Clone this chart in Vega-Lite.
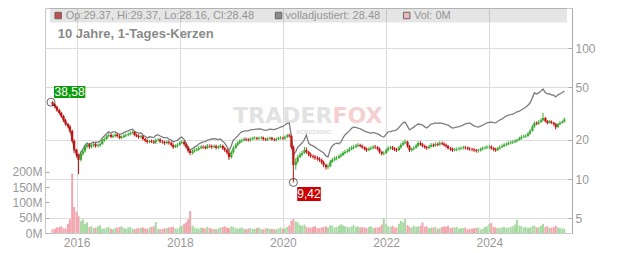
{
"$schema": "https://vega.github.io/schema/vega-lite/v6.json",
"width": 527, "height": 225,
"autosize": "none",
"padding": {"left": 45, "top": 8, "right": 60, "bottom": 20},
"background": "white",
"config": {
  "view": {"stroke": "#c8c8c8"},
  "font": "Liberation Sans",
  "axis": {"labelFont": "Liberation Sans", "labelColor": "#999", "labelFontSize": 12, "gridColor": "#dcdcdc", "domainColor": "#aaa", "tickColor": "#aaa", "title": null}
},
"data": {"values": [
{"d":"2015-07-15","o":38.58,"h":39.2,"l":36.2,"c":37.0,"a":37.4,"v":12},
{"d":"2015-08-01","o":37.0,"h":37.8,"l":34.6,"c":35.6,"a":35.9,"v":14},
{"d":"2015-08-15","o":35.6,"h":36.3,"l":32.6,"c":33.6,"a":34.2,"v":18},
{"d":"2015-09-01","o":33.6,"h":34.4,"l":31.0,"c":31.9,"a":32.3,"v":20},
{"d":"2015-09-15","o":31.9,"h":32.6,"l":29.3,"c":30.2,"a":30.5,"v":22},
{"d":"2015-10-01","o":30.2,"h":30.8,"l":27.2,"c":28.0,"a":28.4,"v":16},
{"d":"2015-10-15","o":28.0,"h":28.8,"l":25.5,"c":26.3,"a":26.8,"v":15},
{"d":"2015-11-01","o":26.3,"h":26.9,"l":24.4,"c":25.2,"a":25.6,"v":30},
{"d":"2015-11-15","o":25.2,"h":25.9,"l":22.6,"c":23.3,"a":23.7,"v":45},
{"d":"2015-12-01","o":23.3,"h":23.8,"l":18.9,"c":19.5,"a":19.9,"v":195},
{"d":"2015-12-15","o":19.5,"h":20.1,"l":15.8,"c":16.6,"a":17.2,"v":85},
{"d":"2016-01-01","o":16.6,"h":17.0,"l":14.6,"c":15.2,"a":15.7,"v":70},
{"d":"2016-01-15","o":15.2,"h":15.6,"l":10.9,"c":14.0,"a":14.5,"v":55},
{"d":"2016-02-01","o":14.0,"h":16.0,"l":13.6,"c":15.6,"a":16.1,"v":40},
{"d":"2016-02-15","o":15.6,"h":17.0,"l":15.1,"c":16.3,"a":16.9,"v":45},
{"d":"2016-03-01","o":16.3,"h":18.1,"l":15.9,"c":17.6,"a":18.1,"v":30},
{"d":"2016-03-15","o":17.6,"h":18.9,"l":17.1,"c":18.2,"a":18.8,"v":35},
{"d":"2016-04-01","o":18.2,"h":18.7,"l":17.0,"c":17.6,"a":18.3,"v":20},
{"d":"2016-04-15","o":17.6,"h":18.6,"l":17.1,"c":18.0,"a":18.8,"v":22},
{"d":"2016-05-01","o":18.0,"h":18.9,"l":17.5,"c":18.4,"a":19.1,"v":16},
{"d":"2016-05-15","o":18.4,"h":18.9,"l":17.3,"c":17.9,"a":19.0,"v":18},
{"d":"2016-06-01","o":17.9,"h":18.6,"l":17.4,"c":18.1,"a":19.1,"v":22},
{"d":"2016-06-15","o":18.1,"h":19.1,"l":17.6,"c":18.5,"a":19.5,"v":25},
{"d":"2016-07-01","o":18.5,"h":20.3,"l":18.2,"c":19.7,"a":20.6,"v":14},
{"d":"2016-07-15","o":19.7,"h":20.8,"l":19.2,"c":20.2,"a":21.3,"v":15},
{"d":"2016-08-01","o":20.2,"h":21.8,"l":19.9,"c":21.2,"a":22.3,"v":18},
{"d":"2016-08-15","o":21.2,"h":22.4,"l":20.8,"c":21.7,"a":22.9,"v":20},
{"d":"2016-09-01","o":21.7,"h":22.2,"l":20.5,"c":21.0,"a":22.4,"v":14},
{"d":"2016-09-15","o":21.0,"h":22.0,"l":20.5,"c":21.3,"a":22.9,"v":12},
{"d":"2016-10-01","o":21.3,"h":22.3,"l":20.8,"c":21.8,"a":22.9,"v":16},
{"d":"2016-10-15","o":21.8,"h":22.3,"l":20.7,"c":21.3,"a":22.4,"v":18},
{"d":"2016-11-01","o":21.3,"h":21.8,"l":20.1,"c":20.6,"a":21.9,"v":20},
{"d":"2016-11-15","o":20.6,"h":21.5,"l":20.1,"c":20.9,"a":22.1,"v":22},
{"d":"2016-12-01","o":20.9,"h":22.0,"l":20.5,"c":21.4,"a":22.6,"v":16},
{"d":"2016-12-15","o":21.4,"h":22.3,"l":20.9,"c":21.7,"a":23.0,"v":14},
{"d":"2017-01-01","o":21.7,"h":22.6,"l":21.2,"c":22.0,"a":23.3,"v":18},
{"d":"2017-01-15","o":22.0,"h":23.1,"l":21.5,"c":22.4,"a":23.7,"v":20},
{"d":"2017-02-01","o":22.4,"h":23.4,"l":21.9,"c":22.8,"a":24.0,"v":14},
{"d":"2017-02-15","o":22.8,"h":23.3,"l":21.1,"c":21.7,"a":23.0,"v":12},
{"d":"2017-03-01","o":21.7,"h":22.2,"l":20.8,"c":21.4,"a":22.7,"v":15},
{"d":"2017-03-15","o":21.4,"h":21.9,"l":20.3,"c":20.9,"a":22.4,"v":16},
{"d":"2017-04-01","o":20.9,"h":21.7,"l":20.4,"c":21.2,"a":22.5,"v":17},
{"d":"2017-04-15","o":21.2,"h":21.6,"l":19.7,"c":20.2,"a":21.7,"v":18},
{"d":"2017-05-01","o":20.2,"h":20.6,"l":19.1,"c":19.6,"a":21.1,"v":15},
{"d":"2017-05-15","o":19.6,"h":20.1,"l":18.6,"c":19.2,"a":20.6,"v":14},
{"d":"2017-06-01","o":19.2,"h":20.0,"l":18.7,"c":19.5,"a":21.0,"v":18},
{"d":"2017-06-15","o":19.5,"h":20.0,"l":18.8,"c":19.3,"a":20.9,"v":20},
{"d":"2017-07-01","o":19.3,"h":19.9,"l":18.5,"c":19.0,"a":20.7,"v":22},
{"d":"2017-07-15","o":19.0,"h":20.4,"l":18.5,"c":19.8,"a":21.5,"v":36},
{"d":"2017-08-01","o":19.8,"h":20.6,"l":19.3,"c":20.0,"a":21.7,"v":14},
{"d":"2017-08-15","o":20.0,"h":20.5,"l":18.8,"c":19.3,"a":21.3,"v":12},
{"d":"2017-09-01","o":19.3,"h":19.8,"l":18.6,"c":19.1,"a":20.9,"v":14},
{"d":"2017-09-15","o":19.1,"h":19.6,"l":18.2,"c":18.8,"a":20.6,"v":15},
{"d":"2017-10-01","o":18.8,"h":19.7,"l":18.4,"c":19.2,"a":20.8,"v":16},
{"d":"2017-10-15","o":19.2,"h":19.7,"l":18.3,"c":18.9,"a":20.2,"v":18},
{"d":"2017-11-01","o":18.9,"h":19.3,"l":17.7,"c":18.2,"a":19.8,"v":19},
{"d":"2017-11-15","o":18.2,"h":18.7,"l":17.0,"c":17.5,"a":19.2,"v":20},
{"d":"2017-12-01","o":17.5,"h":18.4,"l":17.2,"c":17.9,"a":19.5,"v":15},
{"d":"2017-12-15","o":17.9,"h":18.8,"l":17.4,"c":18.2,"a":19.8,"v":14},
{"d":"2018-01-01","o":18.2,"h":19.4,"l":18.0,"c":18.9,"a":20.5,"v":20},
{"d":"2018-01-15","o":18.9,"h":19.8,"l":18.5,"c":19.2,"a":20.9,"v":24},
{"d":"2018-02-01","o":19.2,"h":19.6,"l":17.9,"c":18.4,"a":20.0,"v":30},
{"d":"2018-02-15","o":18.4,"h":18.8,"l":17.0,"c":17.5,"a":18.8,"v":35},
{"d":"2018-03-01","o":17.5,"h":17.8,"l":15.9,"c":16.4,"a":17.3,"v":45},
{"d":"2018-03-15","o":16.4,"h":16.8,"l":15.2,"c":15.8,"a":16.6,"v":72},
{"d":"2018-04-01","o":15.8,"h":16.8,"l":15.4,"c":16.3,"a":17.1,"v":25},
{"d":"2018-04-15","o":16.3,"h":17.2,"l":15.9,"c":16.6,"a":17.5,"v":18},
{"d":"2018-05-01","o":16.6,"h":17.3,"l":16.2,"c":16.8,"a":17.9,"v":15},
{"d":"2018-05-15","o":16.8,"h":17.8,"l":16.4,"c":17.2,"a":18.5,"v":14},
{"d":"2018-06-01","o":17.2,"h":18.1,"l":16.9,"c":17.6,"a":18.9,"v":18},
{"d":"2018-06-15","o":17.6,"h":18.1,"l":17.0,"c":17.5,"a":19.2,"v":16},
{"d":"2018-07-01","o":17.5,"h":18.0,"l":16.8,"c":17.2,"a":19.3,"v":15},
{"d":"2018-07-15","o":17.2,"h":18.5,"l":16.9,"c":17.9,"a":19.8,"v":20},
{"d":"2018-08-01","o":17.9,"h":18.4,"l":17.3,"c":17.8,"a":20.0,"v":16},
{"d":"2018-08-15","o":17.8,"h":18.3,"l":17.0,"c":17.5,"a":20.2,"v":14},
{"d":"2018-09-01","o":17.5,"h":18.3,"l":17.2,"c":17.8,"a":20.3,"v":13},
{"d":"2018-09-15","o":17.8,"h":18.3,"l":16.8,"c":17.3,"a":20.2,"v":12},
{"d":"2018-10-01","o":17.3,"h":18.1,"l":16.9,"c":17.6,"a":20.0,"v":15},
{"d":"2018-10-15","o":17.6,"h":18.5,"l":17.2,"c":17.9,"a":20.2,"v":18},
{"d":"2018-11-01","o":17.9,"h":18.3,"l":16.7,"c":17.2,"a":19.4,"v":20},
{"d":"2018-11-15","o":17.2,"h":17.6,"l":16.1,"c":16.6,"a":18.8,"v":22},
{"d":"2018-12-01","o":16.6,"h":17.0,"l":15.4,"c":15.9,"a":17.7,"v":18},
{"d":"2018-12-15","o":15.9,"h":16.3,"l":14.0,"c":14.7,"a":16.4,"v":16},
{"d":"2019-01-01","o":14.7,"h":16.5,"l":14.3,"c":16.0,"a":18.0,"v":22},
{"d":"2019-01-15","o":16.0,"h":17.8,"l":15.6,"c":17.2,"a":19.8,"v":20},
{"d":"2019-02-01","o":17.2,"h":18.7,"l":17.0,"c":18.2,"a":20.6,"v":16},
{"d":"2019-02-15","o":18.2,"h":19.4,"l":17.8,"c":18.8,"a":21.3,"v":14},
{"d":"2019-03-01","o":18.8,"h":20.0,"l":18.5,"c":19.4,"a":22.2,"v":16},
{"d":"2019-03-15","o":19.4,"h":20.4,"l":19.0,"c":19.8,"a":22.9,"v":18},
{"d":"2019-04-01","o":19.8,"h":20.8,"l":19.4,"c":20.2,"a":23.2,"v":14},
{"d":"2019-04-15","o":20.2,"h":20.7,"l":19.4,"c":20.0,"a":23.3,"v":12},
{"d":"2019-05-01","o":20.0,"h":20.5,"l":19.3,"c":19.8,"a":23.3,"v":15},
{"d":"2019-05-15","o":19.8,"h":20.8,"l":19.3,"c":20.2,"a":23.7,"v":16},
{"d":"2019-06-01","o":20.2,"h":21.0,"l":19.8,"c":20.5,"a":23.8,"v":13},
{"d":"2019-06-15","o":20.5,"h":21.2,"l":20.0,"c":20.6,"a":23.9,"v":14},
{"d":"2019-07-01","o":20.6,"h":21.0,"l":19.8,"c":20.3,"a":24.0,"v":16},
{"d":"2019-07-15","o":20.3,"h":21.1,"l":19.9,"c":20.5,"a":24.1,"v":18},
{"d":"2019-08-01","o":20.5,"h":21.2,"l":20.0,"c":20.7,"a":24.0,"v":13},
{"d":"2019-08-15","o":20.7,"h":21.1,"l":19.6,"c":20.2,"a":23.7,"v":12},
{"d":"2019-09-01","o":20.2,"h":20.6,"l":19.5,"c":20.0,"a":23.5,"v":15},
{"d":"2019-09-15","o":20.0,"h":20.9,"l":19.5,"c":20.3,"a":23.7,"v":16},
{"d":"2019-10-01","o":20.3,"h":21.1,"l":20.0,"c":20.6,"a":24.0,"v":13},
{"d":"2019-10-15","o":20.6,"h":21.0,"l":19.6,"c":20.1,"a":23.9,"v":14},
{"d":"2019-11-01","o":20.1,"h":20.5,"l":19.4,"c":19.9,"a":23.8,"v":12},
{"d":"2019-11-15","o":19.9,"h":20.8,"l":19.4,"c":20.2,"a":24.1,"v":12},
{"d":"2019-12-01","o":20.2,"h":21.0,"l":19.8,"c":20.5,"a":24.5,"v":15},
{"d":"2019-12-15","o":20.5,"h":21.2,"l":20.0,"c":20.6,"a":24.9,"v":18},
{"d":"2020-01-01","o":20.6,"h":21.1,"l":19.9,"c":20.4,"a":25.2,"v":14},
{"d":"2020-01-15","o":20.4,"h":21.5,"l":19.9,"c":20.9,"a":25.8,"v":16},
{"d":"2020-02-01","o":20.9,"h":22.1,"l":20.6,"c":21.5,"a":26.6,"v":20},
{"d":"2020-02-15","o":21.5,"h":22.2,"l":20.7,"c":21.3,"a":26.8,"v":25},
{"d":"2020-03-01","o":21.3,"h":21.7,"l":16.8,"c":17.5,"a":21.0,"v":40},
{"d":"2020-03-15","o":17.5,"h":18.0,"l":9.42,"c":12.8,"a":15.2,"v":46},
{"d":"2020-04-01","o":12.8,"h":14.4,"l":11.8,"c":13.6,"a":16.2,"v":38},
{"d":"2020-04-15","o":13.6,"h":15.3,"l":13.2,"c":14.7,"a":17.5,"v":35},
{"d":"2020-05-01","o":14.7,"h":15.9,"l":14.4,"c":15.3,"a":18.2,"v":26},
{"d":"2020-05-15","o":15.3,"h":16.4,"l":14.9,"c":15.8,"a":18.8,"v":24},
{"d":"2020-06-01","o":15.8,"h":17.6,"l":15.6,"c":16.6,"a":20.0,"v":28},
{"d":"2020-06-15","o":16.6,"h":17.4,"l":15.6,"c":16.1,"a":21.7,"v":20},
{"d":"2020-07-01","o":16.1,"h":16.4,"l":14.9,"c":15.4,"a":18.8,"v":18},
{"d":"2020-07-15","o":15.4,"h":15.9,"l":14.5,"c":15.0,"a":18.2,"v":18},
{"d":"2020-08-01","o":15.0,"h":15.4,"l":14.3,"c":14.8,"a":17.9,"v":20},
{"d":"2020-08-15","o":14.8,"h":15.2,"l":14.0,"c":14.5,"a":17.5,"v":22},
{"d":"2020-09-01","o":14.5,"h":15.0,"l":13.8,"c":14.3,"a":17.0,"v":16},
{"d":"2020-09-15","o":14.3,"h":14.7,"l":13.5,"c":14.0,"a":16.6,"v":16},
{"d":"2020-10-01","o":14.0,"h":14.3,"l":13.0,"c":13.4,"a":16.2,"v":18},
{"d":"2020-10-15","o":13.4,"h":13.8,"l":12.3,"c":12.8,"a":15.8,"v":20},
{"d":"2020-11-01","o":12.8,"h":13.1,"l":11.8,"c":12.3,"a":15.0,"v":22},
{"d":"2020-11-15","o":12.3,"h":13.0,"l":11.9,"c":12.5,"a":14.7,"v":18},
{"d":"2020-12-01","o":12.5,"h":14.0,"l":12.3,"c":13.5,"a":16.8,"v":26},
{"d":"2020-12-15","o":13.5,"h":14.5,"l":13.2,"c":14.0,"a":17.9,"v":24},
{"d":"2021-01-01","o":14.0,"h":14.9,"l":13.7,"c":14.4,"a":18.5,"v":18},
{"d":"2021-01-15","o":14.4,"h":15.0,"l":13.9,"c":14.5,"a":18.8,"v":20},
{"d":"2021-02-01","o":14.5,"h":15.4,"l":14.2,"c":14.9,"a":18.6,"v":24},
{"d":"2021-02-15","o":14.9,"h":15.8,"l":14.6,"c":15.2,"a":19.2,"v":28},
{"d":"2021-03-01","o":15.2,"h":16.3,"l":15.0,"c":15.8,"a":20.6,"v":25},
{"d":"2021-03-15","o":15.8,"h":16.7,"l":15.4,"c":16.1,"a":21.7,"v":22},
{"d":"2021-04-01","o":16.1,"h":17.0,"l":15.8,"c":16.4,"a":22.5,"v":20},
{"d":"2021-04-15","o":16.4,"h":17.5,"l":16.1,"c":16.9,"a":23.3,"v":18},
{"d":"2021-05-01","o":16.9,"h":17.9,"l":16.6,"c":17.3,"a":24.4,"v":22},
{"d":"2021-05-15","o":17.3,"h":18.1,"l":16.8,"c":17.5,"a":24.9,"v":26},
{"d":"2021-06-01","o":17.5,"h":18.5,"l":17.2,"c":17.9,"a":24.8,"v":20},
{"d":"2021-06-15","o":17.9,"h":18.8,"l":17.5,"c":18.2,"a":24.5,"v":22},
{"d":"2021-07-01","o":18.2,"h":18.6,"l":17.4,"c":17.9,"a":24.2,"v":18},
{"d":"2021-07-15","o":17.9,"h":18.3,"l":17.0,"c":17.5,"a":23.7,"v":20},
{"d":"2021-08-01","o":17.5,"h":17.7,"l":16.5,"c":17.0,"a":23.2,"v":18},
{"d":"2021-08-15","o":17.0,"h":17.4,"l":16.1,"c":16.6,"a":22.9,"v":16},
{"d":"2021-09-01","o":16.6,"h":17.5,"l":16.3,"c":17.0,"a":22.6,"v":20},
{"d":"2021-09-15","o":17.0,"h":17.8,"l":16.6,"c":17.2,"a":22.4,"v":22},
{"d":"2021-10-01","o":17.2,"h":18.1,"l":16.9,"c":17.6,"a":22.7,"v":16},
{"d":"2021-10-15","o":17.6,"h":18.2,"l":17.0,"c":17.5,"a":22.4,"v":18},
{"d":"2021-11-01","o":17.5,"h":17.8,"l":16.5,"c":17.0,"a":22.1,"v":18},
{"d":"2021-11-15","o":17.0,"h":17.4,"l":15.6,"c":16.1,"a":21.7,"v":20},
{"d":"2021-12-01","o":16.1,"h":16.4,"l":15.1,"c":15.6,"a":21.1,"v":28},
{"d":"2021-12-15","o":15.6,"h":16.3,"l":15.2,"c":15.8,"a":20.9,"v":48},
{"d":"2022-01-01","o":15.8,"h":17.1,"l":15.5,"c":16.6,"a":22.0,"v":30},
{"d":"2022-01-15","o":16.6,"h":17.8,"l":16.2,"c":17.2,"a":22.9,"v":22},
{"d":"2022-02-01","o":17.2,"h":17.9,"l":16.8,"c":17.4,"a":23.0,"v":20},
{"d":"2022-02-15","o":17.4,"h":17.9,"l":16.6,"c":17.1,"a":23.3,"v":24},
{"d":"2022-03-01","o":17.1,"h":17.5,"l":16.3,"c":16.8,"a":23.4,"v":18},
{"d":"2022-03-15","o":16.8,"h":17.3,"l":16.1,"c":16.6,"a":23.7,"v":18},
{"d":"2022-04-01","o":16.6,"h":17.9,"l":16.3,"c":17.4,"a":24.7,"v":30},
{"d":"2022-04-15","o":17.4,"h":18.8,"l":17.0,"c":18.2,"a":25.8,"v":40},
{"d":"2022-05-01","o":18.2,"h":19.5,"l":17.9,"c":18.9,"a":26.8,"v":35},
{"d":"2022-05-15","o":18.9,"h":20.0,"l":18.5,"c":19.2,"a":27.2,"v":46},
{"d":"2022-06-01","o":19.2,"h":19.6,"l":17.3,"c":17.8,"a":25.2,"v":26},
{"d":"2022-06-15","o":17.8,"h":18.2,"l":16.1,"c":16.6,"a":23.7,"v":20},
{"d":"2022-07-01","o":16.6,"h":17.4,"l":16.2,"c":16.9,"a":24.3,"v":18},
{"d":"2022-07-15","o":16.9,"h":17.8,"l":16.5,"c":17.2,"a":24.9,"v":24},
{"d":"2022-08-01","o":17.2,"h":18.5,"l":17.1,"c":17.9,"a":25.7,"v":20},
{"d":"2022-08-15","o":17.9,"h":19.4,"l":17.6,"c":18.8,"a":26.3,"v":22},
{"d":"2022-09-01","o":18.8,"h":19.4,"l":17.9,"c":18.4,"a":26.1,"v":24},
{"d":"2022-09-15","o":18.4,"h":18.8,"l":17.4,"c":17.9,"a":25.8,"v":35},
{"d":"2022-10-01","o":17.9,"h":18.3,"l":17.0,"c":17.5,"a":25.0,"v":20},
{"d":"2022-10-15","o":17.5,"h":17.9,"l":16.7,"c":17.2,"a":24.5,"v":22},
{"d":"2022-11-01","o":17.2,"h":18.2,"l":17.0,"c":17.7,"a":25.4,"v":16},
{"d":"2022-11-15","o":17.7,"h":18.8,"l":17.4,"c":18.2,"a":26.3,"v":18},
{"d":"2022-12-01","o":18.2,"h":18.7,"l":17.5,"c":18.0,"a":26.5,"v":18},
{"d":"2022-12-15","o":18.0,"h":19.1,"l":17.6,"c":18.5,"a":26.8,"v":20},
{"d":"2023-01-01","o":18.5,"h":19.0,"l":17.8,"c":18.3,"a":26.6,"v":14},
{"d":"2023-01-15","o":18.3,"h":19.4,"l":17.9,"c":18.8,"a":26.8,"v":16},
{"d":"2023-02-01","o":18.8,"h":19.3,"l":18.1,"c":18.6,"a":26.6,"v":20},
{"d":"2023-02-15","o":18.6,"h":19.0,"l":17.7,"c":18.2,"a":26.3,"v":22},
{"d":"2023-03-01","o":18.2,"h":18.6,"l":17.3,"c":17.8,"a":26.0,"v":20},
{"d":"2023-03-15","o":17.8,"h":18.2,"l":16.7,"c":17.2,"a":25.8,"v":24},
{"d":"2023-04-01","o":17.2,"h":17.6,"l":16.4,"c":17.0,"a":25.0,"v":16},
{"d":"2023-04-15","o":17.0,"h":17.4,"l":16.1,"c":16.6,"a":24.5,"v":18},
{"d":"2023-05-01","o":16.6,"h":17.3,"l":16.2,"c":16.8,"a":24.7,"v":18},
{"d":"2023-05-15","o":16.8,"h":17.4,"l":16.3,"c":16.9,"a":24.9,"v":20},
{"d":"2023-06-01","o":16.9,"h":17.6,"l":16.5,"c":17.1,"a":25.1,"v":14},
{"d":"2023-06-15","o":17.1,"h":17.7,"l":16.6,"c":17.2,"a":25.4,"v":16},
{"d":"2023-07-01","o":17.2,"h":17.9,"l":16.8,"c":17.4,"a":25.9,"v":16},
{"d":"2023-07-15","o":17.4,"h":17.9,"l":16.8,"c":17.3,"a":26.3,"v":18},
{"d":"2023-08-01","o":17.3,"h":17.7,"l":16.6,"c":17.0,"a":26.6,"v":12},
{"d":"2023-08-15","o":17.0,"h":17.5,"l":16.4,"c":16.9,"a":26.8,"v":14},
{"d":"2023-09-01","o":16.9,"h":17.3,"l":16.3,"c":16.8,"a":26.0,"v":14},
{"d":"2023-09-15","o":16.8,"h":17.2,"l":16.1,"c":16.6,"a":25.4,"v":16},
{"d":"2023-10-01","o":16.6,"h":17.0,"l":15.9,"c":16.4,"a":25.1,"v":16},
{"d":"2023-10-15","o":16.4,"h":17.0,"l":15.9,"c":16.5,"a":24.9,"v":18},
{"d":"2023-11-01","o":16.5,"h":17.4,"l":16.2,"c":16.9,"a":25.3,"v":12},
{"d":"2023-11-15","o":16.9,"h":17.7,"l":16.6,"c":17.2,"a":25.8,"v":14},
{"d":"2023-12-01","o":17.2,"h":17.9,"l":16.8,"c":17.3,"a":26.3,"v":20},
{"d":"2023-12-15","o":17.3,"h":18.1,"l":16.9,"c":17.5,"a":26.8,"v":22},
{"d":"2024-01-01","o":17.5,"h":18.1,"l":17.0,"c":17.6,"a":27.1,"v":30},
{"d":"2024-01-15","o":17.6,"h":18.1,"l":16.7,"c":17.2,"a":27.2,"v":33},
{"d":"2024-02-01","o":17.2,"h":17.6,"l":16.3,"c":16.8,"a":26.9,"v":20},
{"d":"2024-02-15","o":16.8,"h":17.3,"l":16.1,"c":16.6,"a":26.8,"v":18},
{"d":"2024-03-01","o":16.6,"h":17.6,"l":16.4,"c":17.1,"a":27.6,"v":16},
{"d":"2024-03-15","o":17.1,"h":18.1,"l":16.8,"c":17.5,"a":28.2,"v":16},
{"d":"2024-04-01","o":17.5,"h":18.4,"l":17.2,"c":17.8,"a":28.8,"v":18},
{"d":"2024-04-15","o":17.8,"h":18.8,"l":17.5,"c":18.2,"a":29.5,"v":20},
{"d":"2024-05-01","o":18.2,"h":19.0,"l":17.8,"c":18.4,"a":30.2,"v":16},
{"d":"2024-05-15","o":18.4,"h":19.4,"l":18.1,"c":18.8,"a":30.8,"v":18},
{"d":"2024-06-01","o":18.8,"h":19.6,"l":18.4,"c":19.0,"a":31.0,"v":20},
{"d":"2024-06-15","o":19.0,"h":19.8,"l":18.5,"c":19.2,"a":31.3,"v":22},
{"d":"2024-07-01","o":19.2,"h":20.1,"l":18.8,"c":19.5,"a":31.9,"v":28},
{"d":"2024-07-15","o":19.5,"h":20.4,"l":19.0,"c":19.8,"a":32.5,"v":43},
{"d":"2024-08-01","o":19.8,"h":21.0,"l":19.6,"c":20.4,"a":33.0,"v":24},
{"d":"2024-08-15","o":20.4,"h":21.6,"l":20.0,"c":20.9,"a":33.6,"v":22},
{"d":"2024-09-01","o":20.9,"h":21.8,"l":20.5,"c":21.1,"a":34.5,"v":18},
{"d":"2024-09-15","o":21.1,"h":22.0,"l":20.6,"c":21.3,"a":35.4,"v":20},
{"d":"2024-10-01","o":21.3,"h":22.8,"l":21.0,"c":22.2,"a":36.6,"v":16},
{"d":"2024-10-15","o":22.2,"h":24.0,"l":21.8,"c":23.3,"a":38.0,"v":18},
{"d":"2024-11-01","o":23.3,"h":25.9,"l":23.0,"c":25.1,"a":41.8,"v":22},
{"d":"2024-11-15","o":25.1,"h":27.6,"l":24.6,"c":26.8,"a":45.4,"v":24},
{"d":"2024-12-01","o":26.8,"h":27.5,"l":25.8,"c":26.5,"a":44.6,"v":18},
{"d":"2024-12-15","o":26.5,"h":28.1,"l":25.9,"c":27.2,"a":45.4,"v":20},
{"d":"2025-01-01","o":27.2,"h":29.0,"l":26.8,"c":28.1,"a":47.0,"v":24},
{"d":"2025-01-15","o":28.1,"h":31.9,"l":27.5,"c":29.2,"a":48.6,"v":30},
{"d":"2025-02-01","o":29.2,"h":29.8,"l":27.0,"c":27.6,"a":45.8,"v":20},
{"d":"2025-02-15","o":27.6,"h":28.2,"l":26.1,"c":26.8,"a":44.6,"v":22},
{"d":"2025-03-01","o":26.8,"h":28.2,"l":26.5,"c":27.5,"a":44.8,"v":16},
{"d":"2025-03-15","o":27.5,"h":28.0,"l":26.3,"c":26.9,"a":43.8,"v":18},
{"d":"2025-04-01","o":26.9,"h":27.3,"l":25.5,"c":26.3,"a":43.6,"v":20},
{"d":"2025-04-15","o":26.3,"h":26.8,"l":23.9,"c":24.9,"a":42.3,"v":24},
{"d":"2025-05-01","o":24.9,"h":26.8,"l":24.6,"c":26.2,"a":43.9,"v":18},
{"d":"2025-05-15","o":26.2,"h":27.6,"l":25.8,"c":26.8,"a":44.6,"v":16},
{"d":"2025-06-01","o":26.8,"h":28.0,"l":26.5,"c":27.4,"a":45.8,"v":15},
{"d":"2025-06-15","o":27.4,"h":29.37,"l":27.0,"c":28.48,"a":47.0,"v":14}
]},
"layer": [
  {
    "mark": {"type": "bar", "size": 2},
    "encoding": {
      "x": {"field": "d", "type": "temporal",
            "scale": {"domain": [{"year": 2015, "month": 6, "date": 27}, {"year": 2025, "month": 7, "date": 4}]},
            "axis": {"values": [{"year": 2016}, {"year": 2018}, {"year": 2020}, {"year": 2022}, {"year": 2024}], "format": "%Y", "grid": true, "ticks": false, "domain": false, "labelPadding": 4, "title": null}},
      "y": {"field": "v", "type": "quantitative", "scale": {"domain": [0, 737.7], "nice": false, "zero": true},
            "axis": {"orient": "left", "values": [0, 50, 100, 150, 200], "labelExpr": "datum.value + 'M'", "grid": false, "domain": false, "tickSize": -4, "labelPadding": 7, "title": null}},
      "color": {"condition": {"test": "datum.c >= datum.o", "value": "#a8dba4"}, "value": "#f2a5ad"}
    }
  },
  {
    "layer": [
      {
        "data": {"values": [{}]},
        "mark": {"type": "rect", "color": "#000", "opacity": 0.1},
        "encoding": {
          "x": {"datum": {"year": 2015, "month": 6, "date": 27}, "type": "temporal", "axis": {"values": [{"year": 2016}, {"year": 2018}, {"year": 2020}, {"year": 2022}, {"year": 2024}], "format": "%Y", "grid": true, "ticks": false, "domain": false, "labelPadding": 4, "title": null}},
          "x2": {"datum": {"year": 2025, "month": 7, "date": 4}},
          "y": {"datum": 156.6, "type": "quantitative", "scale": {"type": "log", "domain": [3.871, 202], "nice": false, "zero": false}, "axis": {"orient": "right", "values": [5, 10, 20, 50, 100], "labelExpr": "datum.value", "grid": true, "domain": true, "tickSize": -4, "labelPadding": 7, "title": null}},
          "y2": {"datum": 202}
        }
      },
      {
        "data": {"values": [{}]},
        "mark": {"type": "text", "text": "TRADER", "font": "DejaVu Sans", "fontWeight": "bold", "fontSize": 22, "align": "right", "baseline": "alphabetic", "color": "#e2e2e2"},
        "encoding": {
          "x": {"datum": {"year": 2020, "month": 12, "date": 17}, "type": "temporal", "axis": {"values": [{"year": 2016}, {"year": 2018}, {"year": 2020}, {"year": 2022}, {"year": 2024}], "format": "%Y", "grid": true, "ticks": false, "domain": false, "labelPadding": 4, "title": null}},
          "y": {"datum": 26.8, "type": "quantitative", "scale": {"type": "log", "domain": [3.871, 202], "nice": false, "zero": false}, "axis": {"orient": "right", "values": [5, 10, 20, 50, 100], "labelExpr": "datum.value", "grid": true, "domain": true, "tickSize": -4, "labelPadding": 7, "title": null}}
        }
      },
      {
        "data": {"values": [{}]},
        "mark": {"type": "text", "text": "FOX", "font": "DejaVu Sans", "fontWeight": "bold", "fontSize": 22, "align": "left", "baseline": "alphabetic", "color": "#f6d0d0"},
        "encoding": {
          "x": {"datum": {"year": 2020, "month": 12, "date": 17}, "type": "temporal", "axis": {"values": [{"year": 2016}, {"year": 2018}, {"year": 2020}, {"year": 2022}, {"year": 2024}], "format": "%Y", "grid": true, "ticks": false, "domain": false, "labelPadding": 4, "title": null}},
          "y": {"datum": 26.8, "type": "quantitative", "scale": {"type": "log", "domain": [3.871, 202], "nice": false, "zero": false}, "axis": {"orient": "right", "values": [5, 10, 20, 50, 100], "labelExpr": "datum.value", "grid": true, "domain": true, "tickSize": -4, "labelPadding": 7, "title": null}}
        }
      },
      {
        "data": {"values": [{}]},
        "mark": {"type": "text", "text": "SCREENING", "fontSize": 6, "fontWeight": "bold", "align": "center", "baseline": "alphabetic", "color": "#dedede"},
        "encoding": {
          "x": {"datum": {"year": 2020, "month": 8, "date": 7}, "type": "temporal", "axis": {"values": [{"year": 2016}, {"year": 2018}, {"year": 2020}, {"year": 2022}, {"year": 2024}], "format": "%Y", "grid": true, "ticks": false, "domain": false, "labelPadding": 4, "title": null}},
          "y": {"datum": 22.2, "type": "quantitative", "scale": {"type": "log", "domain": [3.871, 202], "nice": false, "zero": false}, "axis": {"orient": "right", "values": [5, 10, 20, 50, 100], "labelExpr": "datum.value", "grid": true, "domain": true, "tickSize": -4, "labelPadding": 7, "title": null}}
        }
      },
      {
        "mark": {"type": "line", "color": "#7d7d7d", "strokeWidth": 1.3},
        "encoding": {
          "x": {"field": "d", "type": "temporal", "axis": {"values": [{"year": 2016}, {"year": 2018}, {"year": 2020}, {"year": 2022}, {"year": 2024}], "format": "%Y", "grid": true, "ticks": false, "domain": false, "labelPadding": 4, "title": null}},
          "y": {"field": "a", "type": "quantitative", "scale": {"type": "log", "domain": [3.871, 202], "nice": false, "zero": false}, "axis": {"orient": "right", "values": [5, 10, 20, 50, 100], "labelExpr": "datum.value", "grid": true, "domain": true, "tickSize": -4, "labelPadding": 7, "title": null}}
        }
      },
      {
        "mark": {"type": "rule", "strokeWidth": 1},
        "encoding": {
          "x": {"field": "d", "type": "temporal", "axis": {"values": [{"year": 2016}, {"year": 2018}, {"year": 2020}, {"year": 2022}, {"year": 2024}], "format": "%Y", "grid": true, "ticks": false, "domain": false, "labelPadding": 4, "title": null}},
          "y": {"field": "l", "type": "quantitative", "scale": {"type": "log", "domain": [3.871, 202], "nice": false, "zero": false}, "axis": {"orient": "right", "values": [5, 10, 20, 50, 100], "labelExpr": "datum.value", "grid": true, "domain": true, "tickSize": -4, "labelPadding": 7, "title": null}},
          "y2": {"field": "h"},
          "color": {"condition": {"test": "datum.c >= datum.o", "value": "#3aaa32"}, "value": "#c41212"}
        }
      },
      {
        "mark": {"type": "bar", "size": 2.2},
        "encoding": {
          "x": {"field": "d", "type": "temporal", "axis": {"values": [{"year": 2016}, {"year": 2018}, {"year": 2020}, {"year": 2022}, {"year": 2024}], "format": "%Y", "grid": true, "ticks": false, "domain": false, "labelPadding": 4, "title": null}},
          "y": {"field": "o", "type": "quantitative", "scale": {"type": "log", "domain": [3.871, 202], "nice": false, "zero": false}, "axis": {"orient": "right", "values": [5, 10, 20, 50, 100], "labelExpr": "datum.value", "grid": true, "domain": true, "tickSize": -4, "labelPadding": 7, "title": null}},
          "y2": {"field": "c"},
          "color": {"condition": {"test": "datum.c >= datum.o", "value": "#3aaa32"}, "value": "#c41212"}
        }
      },
      {
        "data": {"values": [{}]},
        "mark": {"type": "point", "shape": "circle", "size": 64, "filled": false, "color": "#222", "strokeWidth": 1},
        "encoding": {
          "x": {"datum": {"year": 2015, "month": 7, "date": 4}, "type": "temporal", "axis": {"values": [{"year": 2016}, {"year": 2018}, {"year": 2020}, {"year": 2022}, {"year": 2024}], "format": "%Y", "grid": true, "ticks": false, "domain": false, "labelPadding": 4, "title": null}},
          "y": {"datum": 38.58, "type": "quantitative", "scale": {"type": "log", "domain": [3.871, 202], "nice": false, "zero": false}, "axis": {"orient": "right", "values": [5, 10, 20, 50, 100], "labelExpr": "datum.value", "grid": true, "domain": true, "tickSize": -4, "labelPadding": 7, "title": null}}
        }
      },
      {
        "data": {"values": [{}]},
        "mark": {"type": "point", "shape": "circle", "size": 64, "filled": false, "color": "#222", "strokeWidth": 1},
        "encoding": {
          "x": {"datum": {"year": 2020, "month": 3, "date": 15}, "type": "temporal", "axis": {"values": [{"year": 2016}, {"year": 2018}, {"year": 2020}, {"year": 2022}, {"year": 2024}], "format": "%Y", "grid": true, "ticks": false, "domain": false, "labelPadding": 4, "title": null}},
          "y": {"datum": 9.42, "type": "quantitative", "scale": {"type": "log", "domain": [3.871, 202], "nice": false, "zero": false}, "axis": {"orient": "right", "values": [5, 10, 20, 50, 100], "labelExpr": "datum.value", "grid": true, "domain": true, "tickSize": -4, "labelPadding": 7, "title": null}}
        }
      },
      {
        "data": {"values": [{}]},
        "mark": {"type": "rect", "color": "#0c9b0c"},
        "encoding": {
          "x": {"datum": {"year": 2015, "month": 7, "date": 25}, "type": "temporal", "axis": {"values": [{"year": 2016}, {"year": 2018}, {"year": 2020}, {"year": 2022}, {"year": 2024}], "format": "%Y", "grid": true, "ticks": false, "domain": false, "labelPadding": 4, "title": null}},
          "x2": {"datum": {"year": 2016, "month": 3, "date": 3}},
          "y": {"datum": 41.5, "type": "quantitative", "scale": {"type": "log", "domain": [3.871, 202], "nice": false, "zero": false}, "axis": {"orient": "right", "values": [5, 10, 20, 50, 100], "labelExpr": "datum.value", "grid": true, "domain": true, "tickSize": -4, "labelPadding": 7, "title": null}},
          "y2": {"datum": 51.3}
        }
      },
      {
        "data": {"values": [{}]},
        "mark": {"type": "text", "text": "38,58", "fontSize": 12, "color": "white", "align": "center", "baseline": "middle"},
        "encoding": {
          "x": {"datum": {"year": 2015, "month": 11, "date": 13}, "type": "temporal", "axis": {"values": [{"year": 2016}, {"year": 2018}, {"year": 2020}, {"year": 2022}, {"year": 2024}], "format": "%Y", "grid": true, "ticks": false, "domain": false, "labelPadding": 4, "title": null}},
          "y": {"datum": 46.1, "type": "quantitative", "scale": {"type": "log", "domain": [3.871, 202], "nice": false, "zero": false}, "axis": {"orient": "right", "values": [5, 10, 20, 50, 100], "labelExpr": "datum.value", "grid": true, "domain": true, "tickSize": -4, "labelPadding": 7, "title": null}}
        }
      },
      {
        "data": {"values": [{}]},
        "mark": {"type": "rect", "color": "#cc0000"},
        "encoding": {
          "x": {"datum": {"year": 2020, "month": 4, "date": 11}, "type": "temporal", "axis": {"values": [{"year": 2016}, {"year": 2018}, {"year": 2020}, {"year": 2022}, {"year": 2024}], "format": "%Y", "grid": true, "ticks": false, "domain": false, "labelPadding": 4, "title": null}},
          "x2": {"datum": {"year": 2020, "month": 9, "date": 25}},
          "y": {"datum": 6.79, "type": "quantitative", "scale": {"type": "log", "domain": [3.871, 202], "nice": false, "zero": false}, "axis": {"orient": "right", "values": [5, 10, 20, 50, 100], "labelExpr": "datum.value", "grid": true, "domain": true, "tickSize": -4, "labelPadding": 7, "title": null}},
          "y2": {"datum": 8.69}
        }
      },
      {
        "data": {"values": [{}]},
        "mark": {"type": "text", "text": "9,42", "fontSize": 12, "color": "white", "align": "center", "baseline": "middle"},
        "encoding": {
          "x": {"datum": {"year": 2020, "month": 7, "date": 3}, "type": "temporal", "axis": {"values": [{"year": 2016}, {"year": 2018}, {"year": 2020}, {"year": 2022}, {"year": 2024}], "format": "%Y", "grid": true, "ticks": false, "domain": false, "labelPadding": 4, "title": null}},
          "y": {"datum": 7.68, "type": "quantitative", "scale": {"type": "log", "domain": [3.871, 202], "nice": false, "zero": false}, "axis": {"orient": "right", "values": [5, 10, 20, 50, 100], "labelExpr": "datum.value", "grid": true, "domain": true, "tickSize": -4, "labelPadding": 7, "title": null}}
        }
      },
      {
        "data": {"values": [{}]},
        "mark": {"type": "text", "text": "10 Jahre, 1-Tages-Kerzen", "fontSize": 13, "fontWeight": "bold", "color": "#8a8a8a", "align": "left", "baseline": "alphabetic"},
        "encoding": {
          "x": {"datum": {"year": 2015, "month": 8, "date": 21}, "type": "temporal", "axis": {"values": [{"year": 2016}, {"year": 2018}, {"year": 2020}, {"year": 2022}, {"year": 2024}], "format": "%Y", "grid": true, "ticks": false, "domain": false, "labelPadding": 4, "title": null}},
          "y": {"datum": 119.2, "type": "quantitative", "scale": {"type": "log", "domain": [3.871, 202], "nice": false, "zero": false}, "axis": {"orient": "right", "values": [5, 10, 20, 50, 100], "labelExpr": "datum.value", "grid": true, "domain": true, "tickSize": -4, "labelPadding": 7, "title": null}}
        }
      },
      {
        "data": {"values": [{}]},
        "mark": {"type": "point", "shape": "square", "size": 42, "filled": true, "fill": "#b80c0c", "stroke": "#333", "strokeWidth": 1},
        "encoding": {
          "x": {"datum": {"year": 2015, "month": 8, "date": 24}, "type": "temporal", "axis": {"values": [{"year": 2016}, {"year": 2018}, {"year": 2020}, {"year": 2022}, {"year": 2024}], "format": "%Y", "grid": true, "ticks": false, "domain": false, "labelPadding": 4, "title": null}},
          "y": {"datum": 177, "type": "quantitative", "scale": {"type": "log", "domain": [3.871, 202], "nice": false, "zero": false}, "axis": {"orient": "right", "values": [5, 10, 20, 50, 100], "labelExpr": "datum.value", "grid": true, "domain": true, "tickSize": -4, "labelPadding": 7, "title": null}}
        }
      },
      {
        "data": {"values": [{}]},
        "mark": {"type": "text", "text": "Op:29.37, Hi:29.37, Lo:28.16, Cl:28.48", "fontSize": 11, "color": "#959595", "align": "left", "baseline": "middle"},
        "encoding": {
          "x": {"datum": {"year": 2015, "month": 10, "date": 16}, "type": "temporal", "axis": {"values": [{"year": 2016}, {"year": 2018}, {"year": 2020}, {"year": 2022}, {"year": 2024}], "format": "%Y", "grid": true, "ticks": false, "domain": false, "labelPadding": 4, "title": null}},
          "y": {"datum": 177, "type": "quantitative", "scale": {"type": "log", "domain": [3.871, 202], "nice": false, "zero": false}, "axis": {"orient": "right", "values": [5, 10, 20, 50, 100], "labelExpr": "datum.value", "grid": true, "domain": true, "tickSize": -4, "labelPadding": 7, "title": null}}
        }
      },
      {
        "data": {"values": [{}]},
        "mark": {"type": "point", "shape": "square", "size": 42, "filled": true, "fill": "#666", "stroke": "#333", "strokeWidth": 1},
        "encoding": {
          "x": {"datum": {"year": 2019, "month": 12, "date": 1}, "type": "temporal", "axis": {"values": [{"year": 2016}, {"year": 2018}, {"year": 2020}, {"year": 2022}, {"year": 2024}], "format": "%Y", "grid": true, "ticks": false, "domain": false, "labelPadding": 4, "title": null}},
          "y": {"datum": 177, "type": "quantitative", "scale": {"type": "log", "domain": [3.871, 202], "nice": false, "zero": false}, "axis": {"orient": "right", "values": [5, 10, 20, 50, 100], "labelExpr": "datum.value", "grid": true, "domain": true, "tickSize": -4, "labelPadding": 7, "title": null}}
        }
      },
      {
        "data": {"values": [{}]},
        "mark": {"type": "text", "text": "volladjustiert: 28.48", "fontSize": 11, "color": "#959595", "align": "left", "baseline": "middle"},
        "encoding": {
          "x": {"datum": {"year": 2020, "month": 1, "date": 18}, "type": "temporal", "axis": {"values": [{"year": 2016}, {"year": 2018}, {"year": 2020}, {"year": 2022}, {"year": 2024}], "format": "%Y", "grid": true, "ticks": false, "domain": false, "labelPadding": 4, "title": null}},
          "y": {"datum": 177, "type": "quantitative", "scale": {"type": "log", "domain": [3.871, 202], "nice": false, "zero": false}, "axis": {"orient": "right", "values": [5, 10, 20, 50, 100], "labelExpr": "datum.value", "grid": true, "domain": true, "tickSize": -4, "labelPadding": 7, "title": null}}
        }
      },
      {
        "data": {"values": [{}]},
        "mark": {"type": "point", "shape": "square", "size": 42, "filled": true, "fill": "#f2a5ad", "stroke": "#333", "strokeWidth": 1},
        "encoding": {
          "x": {"datum": {"year": 2022, "month": 5, "date": 26}, "type": "temporal", "axis": {"values": [{"year": 2016}, {"year": 2018}, {"year": 2020}, {"year": 2022}, {"year": 2024}], "format": "%Y", "grid": true, "ticks": false, "domain": false, "labelPadding": 4, "title": null}},
          "y": {"datum": 177, "type": "quantitative", "scale": {"type": "log", "domain": [3.871, 202], "nice": false, "zero": false}, "axis": {"orient": "right", "values": [5, 10, 20, 50, 100], "labelExpr": "datum.value", "grid": true, "domain": true, "tickSize": -4, "labelPadding": 7, "title": null}}
        }
      },
      {
        "data": {"values": [{}]},
        "mark": {"type": "text", "text": "Vol: 0M", "fontSize": 11, "color": "#959595", "align": "left", "baseline": "middle"},
        "encoding": {
          "x": {"datum": {"year": 2022, "month": 7, "date": 17}, "type": "temporal", "axis": {"values": [{"year": 2016}, {"year": 2018}, {"year": 2020}, {"year": 2022}, {"year": 2024}], "format": "%Y", "grid": true, "ticks": false, "domain": false, "labelPadding": 4, "title": null}},
          "y": {"datum": 177, "type": "quantitative", "scale": {"type": "log", "domain": [3.871, 202], "nice": false, "zero": false}, "axis": {"orient": "right", "values": [5, 10, 20, 50, 100], "labelExpr": "datum.value", "grid": true, "domain": true, "tickSize": -4, "labelPadding": 7, "title": null}}
        }
      }
    ]
  }
],
"resolve": {"scale": {"y": "independent"}}
}
